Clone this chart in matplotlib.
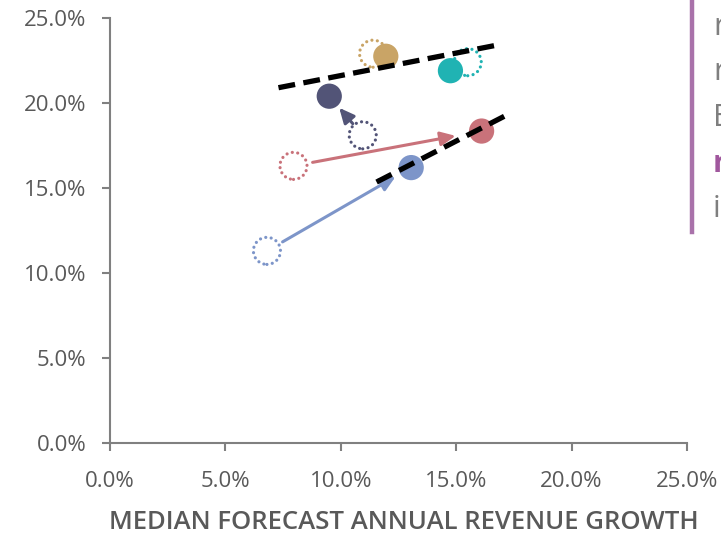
import matplotlib.pyplot as plt
from matplotlib.ticker import PercentFormatter

plt.rcParams['font.family'] = ['Open Sans', 'DejaVu Sans']

# Growth moves: dotted circle = before, filled circle = after (values in %)
names = ['gold', 'teal', 'navy', 'red', 'blue']
colors = ['#c9a466', '#20b3b3', '#525477', '#c9727a', '#7d95c9']
x_before = [11.4, 15.5, 10.95, 7.95, 6.8]
y_before = [22.9, 22.4, 18.1, 16.3, 11.3]
x_after = [11.95, 14.75, 9.5, 16.1, 13.05]
y_after = [22.75, 21.9, 20.4, 18.35, 16.2]

# arrows drawn for these moves only (shrink at start, shrink at end in pt)
arrow_moves = {'navy': (11, 11), 'red': (14, 19), 'blue': (13, 13)}

# dashed trend lines
trend_top_x = [7.3, 16.75]
trend_top_y = [20.9, 23.4]
trend_low_x = [11.55, 17.2]
trend_low_y = [15.35, 19.3]

x_ticks = [0, 5, 10, 15, 20, 25]
y_ticks = [0, 5, 10, 15, 20, 25]

# side panel text fragments
side_text = ['r', 'r', 'E', 'r', 'i']
side_bold = [False, False, False, True, False]

grey = '#595959'
axis_grey = '#808080'

fig = plt.figure(figsize=(7.21, 5.34), dpi=100)
ax = fig.add_axes([110 / 721, 1 - 443 / 534, 577 / 721, 425 / 534])

before = ax.scatter(x_before, y_before, s=380, facecolors='none', edgecolors=colors,
                    linestyle=(0, (0.01, 1.7)), linewidths=2.3, zorder=2)
before.set_capstyle('round')
ax.scatter(x_after, y_after, s=330, c=colors, linewidths=0, zorder=3)

for name, c, x0, y0, x1, y1 in zip(names, colors, x_before, y_before, x_after, y_after):
    if name in arrow_moves:
        sa, sb = arrow_moves[name]
        ax.annotate('', xy=(x1, y1), xytext=(x0, y0),
                    arrowprops=dict(arrowstyle='-|>,head_length=0.9,head_width=0.42',
                                    color=c, lw=2.2, shrinkA=sa, shrinkB=sb),
                    zorder=2.5)

ax.plot(trend_top_x, trend_top_y, color='black', lw=3.8,
        linestyle=(0, (3.2, 1.6)), zorder=4)
ax.plot(trend_low_x, trend_low_y, color='black', lw=3.8,
        linestyle=(0, (3.2, 1.6)), zorder=4)

ax.set_xlim(0, 25)
ax.set_ylim(0, 25)
ax.set_xticks(x_ticks)
ax.set_yticks(y_ticks)
ax.xaxis.set_major_formatter(PercentFormatter(decimals=1))
ax.yaxis.set_major_formatter(PercentFormatter(decimals=1))
for s in ['top', 'right']:
    ax.spines[s].set_visible(False)
for s in ['left', 'bottom']:
    ax.spines[s].set_color(axis_grey)
    ax.spines[s].set_linewidth(1.5)
ax.tick_params(axis='both', colors=axis_grey, labelcolor=grey, labelsize=16,
               length=6, width=1.5)
ax.tick_params(axis='y', pad=11)
ax.tick_params(axis='x', pad=14)
ax.set_xlabel('MEDIAN FORECAST ANNUAL REVENUE GROWTH', fontsize=18.5,
              fontweight='semibold', color=grey, va='baseline')
ax.xaxis.set_label_coords((404 - 110) / 577, (443 - 529) / 425)

# purple divider and side text
fig.add_artist(plt.Line2D([692 / 721, 692 / 721], [1, 1 - 232 / 534],
                          color='#a972aa', lw=3.2))
for i, (t, b) in enumerate(zip(side_text, side_bold)):
    fig.text(713 / 721, 1 - (35 + 45.5 * i) / 534, t, fontsize=22,
             color='#a0579d' if b else '#7f7f7f',
             fontweight='bold' if b else 'normal', ha='left', va='baseline')

fig.savefig('out.png', dpi=100)
